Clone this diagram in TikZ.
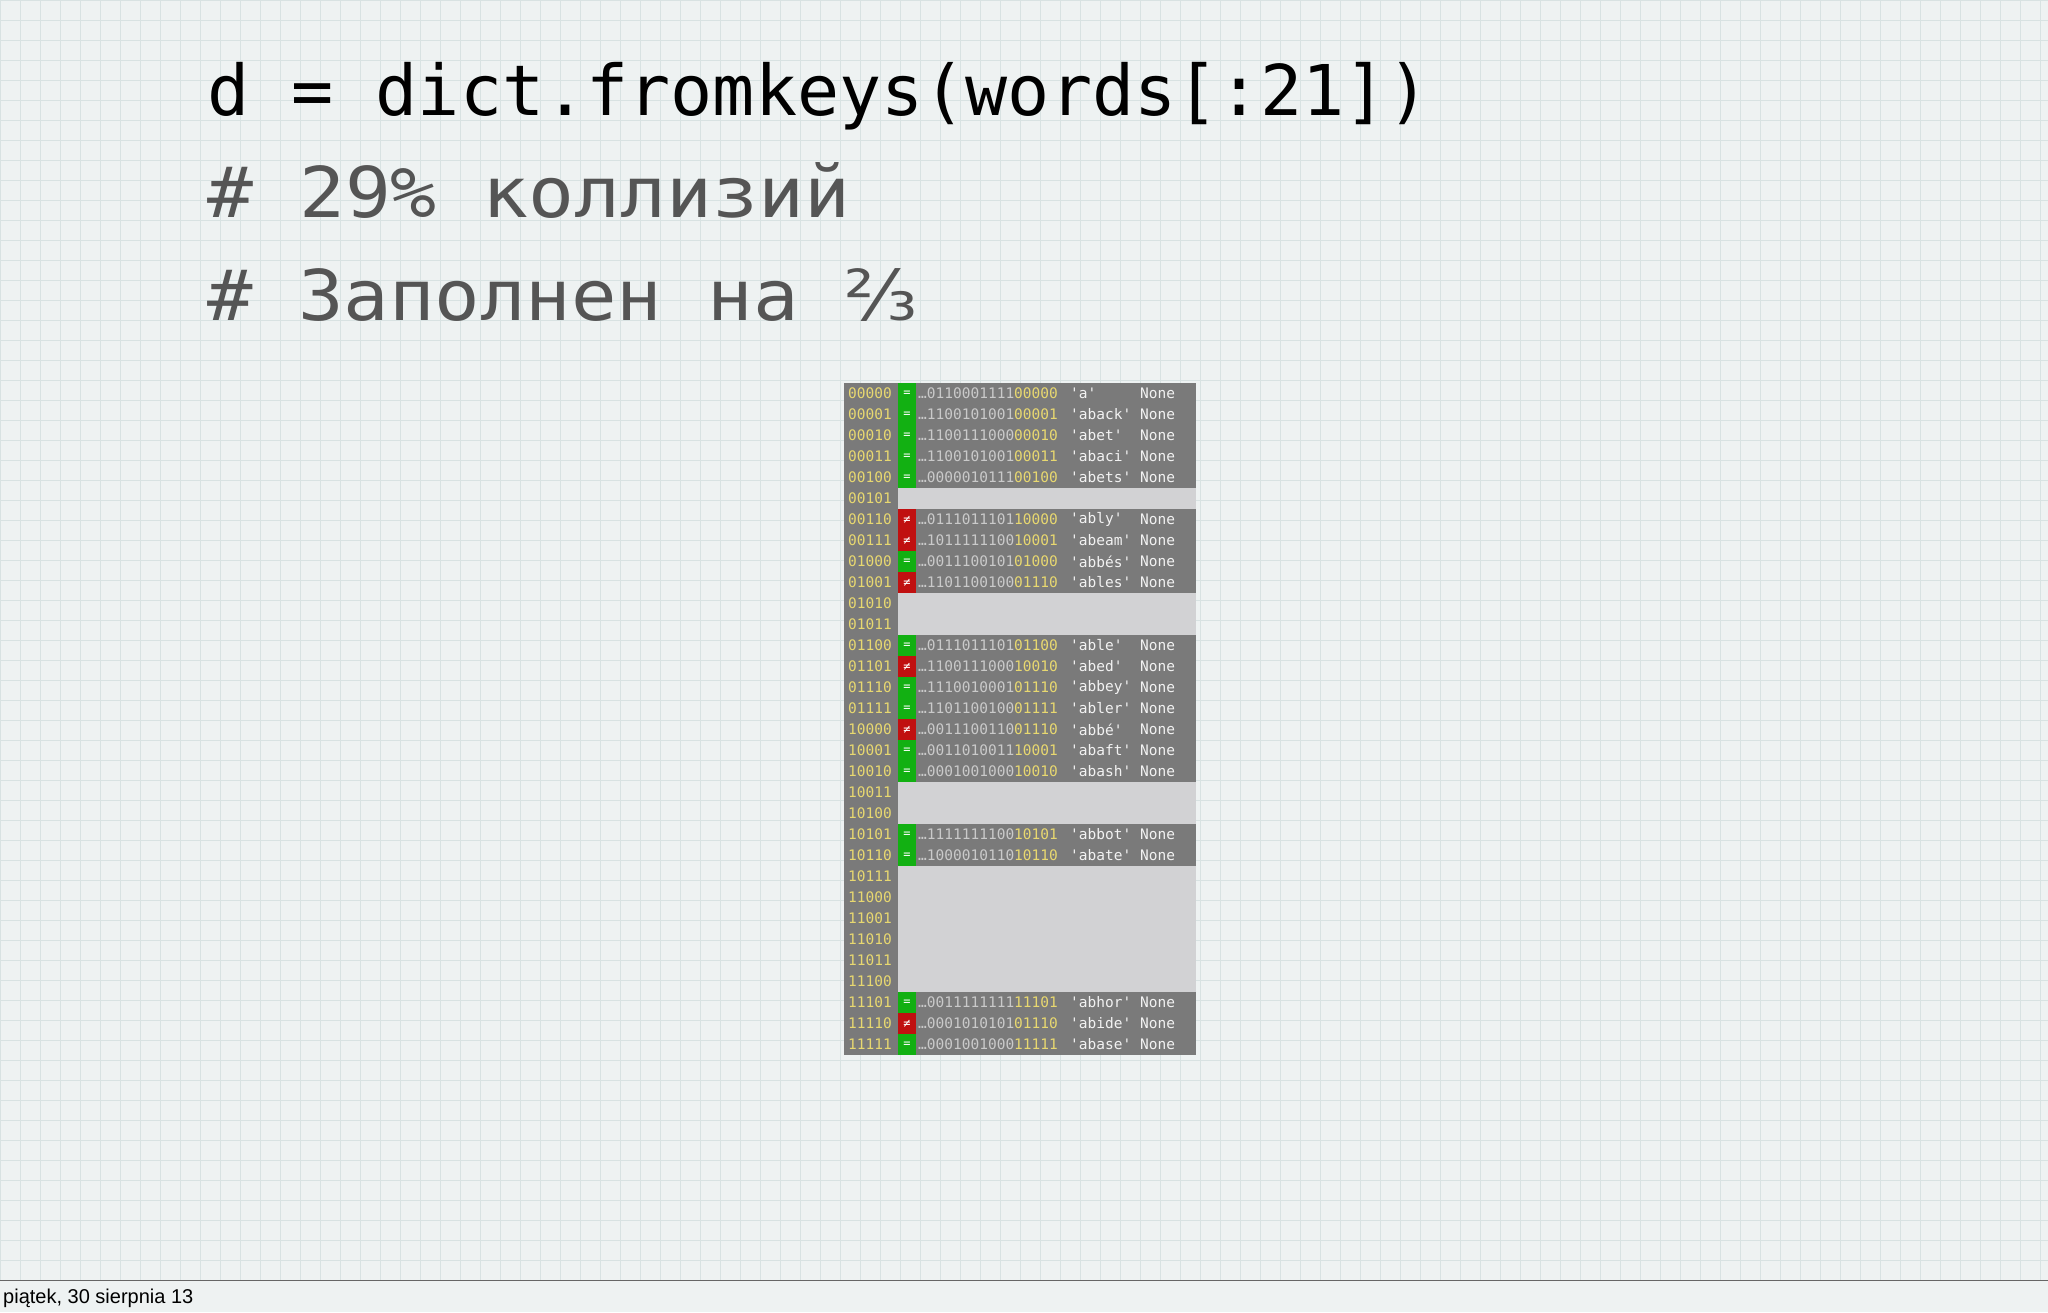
\documentclass[tikz,border=0pt]{standalone}
\usepackage{fontspec}
\setmainfont{Liberation Sans}
\newfontfamily\monof{DejaVu Sans Mono}
\newfontfamily\dejav{DejaVu Sans}
\definecolor{bg}{HTML}{EEF2F2}
\definecolor{gridc}{HTML}{D8E2E2}
\definecolor{tdark}{HTML}{7A7A7A}
\definecolor{tlight}{HTML}{D2D2D4}
\definecolor{yel}{HTML}{E8D870}
\definecolor{hashg}{HTML}{CACACA}
\definecolor{txtw}{HTML}{F2F2F2}
\definecolor{mgreen}{HTML}{12B012}
\definecolor{mred}{HTML}{C01010}
\definecolor{subg}{HTML}{555555}
\tikzset{
  title/.style={anchor=base west,inner sep=0,font=\monof\fontsize{70}{70}\selectfont},
  cell/.style={anchor=west,inner sep=0,font=\monof\fontsize{14.5}{15}\selectfont},
}
\begin{document}
\begin{tikzpicture}[x=1pt,y=-1pt]
\useasboundingbox (0,0) rectangle (2048,1312);
\fill[bg] (0,0) rectangle (2048,1312);
\foreach \g in {0,20,...,2040}{\draw[gridc,line width=0.7pt] (\g,0) -- (\g,1280);}
\foreach \g in {0,20,...,1280}{\draw[gridc,line width=0.7pt] (0,\g) -- (2048,\g);}
\draw[gray!80!black,line width=1pt] (0,1280) -- (2048,1280);
\node[anchor=base west,inner sep=0,font=\fontsize{20}{20}\selectfont] (foot) at (3,1303) {piątek, 30 sierpnia 13};
\node[title,text=black] (t1) at (207,115) {d = dict.fromkeys(words[:21])};
\node[title,text=subg,xscale=1.09,transform shape] (t2) at (207,217) {\# 29\% коллизий};
\node[title,text=subg,xscale=1.08,transform shape] (t3) at (207,320) {\# Заполнен на {\dejav ⅔}};
% table
\fill[tdark] (844,383) rectangle (1196,1055);
\foreach \a/\b in {5/6,10/12,19/21,23/29}{
  \fill[tlight] (898,383+21*\a) rectangle (1196,383+21*\b);
}
\foreach \ix [count=\r from 0] in {00000,00001,00010,00011,00100,00101,00110,00111,01000,01001,01010,01011,01100,01101,01110,01111,10000,10001,10010,10011,10100,10101,10110,10111,11000,11001,11010,11011,11100,11101,11110,11111}{
  \node[cell,text=yel] (i\r) at (848,393.5+21*\r) {\ix};
}
\foreach \r/\m/\hi/\lo/\k in {
 0/1/0110001111/00000/a,
 1/1/1100101001/00001/aback,
 2/1/1100111000/00010/abet,
 3/1/1100101001/00011/abaci,
 4/1/0000010111/00100/abets,
 6/0/0111011101/10000/ably,
 7/0/1011111100/10001/abeam,
 8/1/0011100101/01000/abbés,
 9/0/1101100100/01110/ables,
 12/1/0111011101/01100/able,
 13/0/1100111000/10010/abed,
 14/1/1110010001/01110/abbey,
 15/1/1101100100/01111/abler,
 16/0/0011100110/01110/abbé,
 17/1/0011010011/10001/abaft,
 18/1/0001001000/10010/abash,
 21/1/1111111100/10101/abbot,
 22/1/1000010110/10110/abate,
 29/1/0011111111/11101/abhor,
 30/0/0001010101/01110/abide,
 31/1/0001001000/11111/abase}{
  \ifnum\m=1 \def\mc{mgreen}\def\ms{=}\else\def\mc{mred}\def\ms{≠}\fi
  \fill[\mc] (898,383+21*\r) rectangle (916,404+21*\r);
  \node[inner sep=0,text=white,font=\monof\fontsize{12}{12}\selectfont] (m\r) at (907,393.5+21*\r) {\ms};
  \node[cell] (h\r) at (918,393.5+21*\r) {\color{hashg}…\hi\color{yel}\lo};
  \node[cell,text=txtw] (k\r) at (1070,393.5+21*\r) {'\k'};
  \node[cell,text=txtw] (n\r) at (1140,393.5+21*\r) {None};
}
\end{tikzpicture}
\end{document}
